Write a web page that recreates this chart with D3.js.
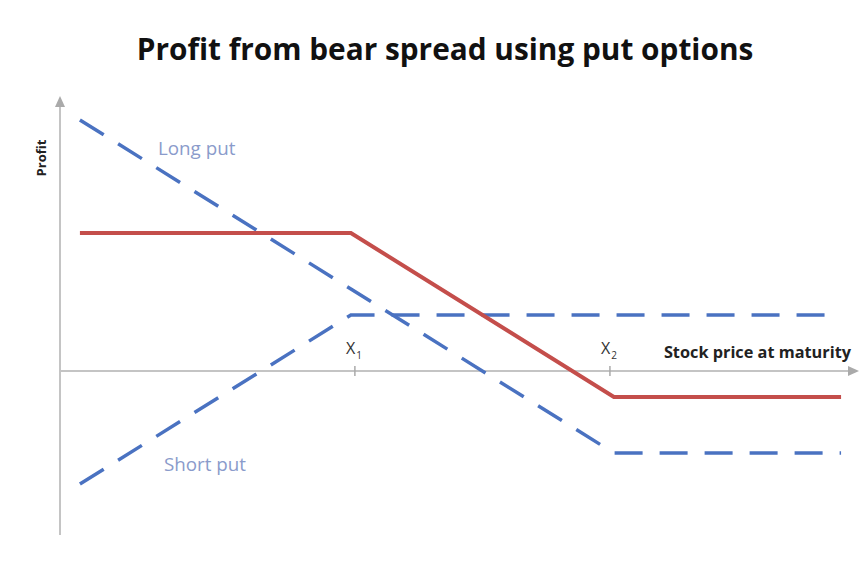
<!DOCTYPE html>
<html>
<head>
<meta charset="utf-8">
<script src="https://cdn.jsdelivr.net/npm/d3@7"></script>
<style>
  body { margin: 0; background: #fff; }
  text { font-family: "Open Sans", "Noto Sans", sans-serif; }
</style>
</head>
<body>
<div id="chart"></div>
<script>
// stock price at maturity and profit, both in arbitrary units
var prices = [2.5, 36.5, 69.5, 98];
var longPut = [25.1, 8.2, -8.2, -8.2];
var shortPut = [-11.3, 5.6, 5.6, 5.6];
var bearSpread = [13.8, 13.8, -2.6, -2.6];
var strikes = [{name: "X", sub: "1", value: 37}, {name: "X", sub: "2", value: 69}];
var seriesLabels = ["Long put", "Short put"];

var width = 863, height = 578;

var svg = d3.select("#chart")
    .append("svg")
    .attr("width", width)
    .attr("height", height);

var x = d3.scaleLinear().domain([0, 100]).range([60, 857]);
var y = d3.scaleLinear().domain([-16.4, 27.3]).range([535, 98]);

svg.append("text")
    .attr("x", 445)
    .attr("y", 60)
    .attr("text-anchor", "middle")
    .style("font-size", "29.8px")
    .style("font-weight", "bold")
    .style("fill", "#111")
    .text("Profit from bear spread using put options");

// axes
var axisColor = "#c4c4c4";
svg.append("line")
    .attr("x1", x(0)).attr("x2", x(0))
    .attr("y1", y.range()[0]).attr("y2", y.range()[1] + 6)
    .style("stroke", axisColor).style("stroke-width", 2);
svg.append("path")
    .attr("d", "M" + x(0) + "," + (y.range()[1] - 2) + "l-5,11l10,0z")
    .style("fill", "#aaa");

svg.append("line")
    .attr("x1", x(0)).attr("x2", x(100) - 6)
    .attr("y1", y(0)).attr("y2", y(0))
    .style("stroke", axisColor).style("stroke-width", 2);
svg.append("path")
    .attr("d", "M" + (x(100) + 2) + "," + y(0) + "l-11,-5l0,10z")
    .style("fill", "#aaa");

svg.selectAll("line.tick")
    .data(strikes)
    .enter().append("line")
    .attr("class", "tick")
    .attr("x1", function(d) { return x(d.value); })
    .attr("x2", function(d) { return x(d.value); })
    .attr("y1", y(0) - 5).attr("y2", y(0) + 5)
    .style("stroke", "#aaa").style("stroke-width", 1.5);

var strikeText = svg.selectAll("text.strike")
    .data(strikes)
    .enter().append("text")
    .attr("class", "strike")
    .attr("x", function(d) { return x(d.value) - 9; })
    .attr("y", y(0) - 17)
    .style("font-size", "16px")
    .style("fill", "#333");
strikeText.append("tspan").text(function(d) { return d.name; });
strikeText.append("tspan")
    .attr("dx", 1)
    .attr("dy", 5)
    .style("font-size", "10px")
    .text(function(d) { return d.sub; });

svg.append("text")
    .attr("x", 851)
    .attr("y", y(0) - 13)
    .attr("text-anchor", "end")
    .style("font-size", "16.3px")
    .style("font-weight", "bold")
    .style("fill", "#222")
    .text("Stock price at maturity");

svg.append("text")
    .attr("transform", "translate(46,158) rotate(-90)")
    .attr("text-anchor", "middle")
    .style("font-size", "13px")
    .style("font-weight", "bold")
    .style("fill", "#222")
    .text("Profit");

// lines
var line = d3.line()
    .x(function(d) { return x(d[0]); })
    .y(function(d) { return y(d[1]); });

function pts(values) {
    return prices.map(function(p, i) { return [p, values[i]]; });
}

svg.append("path")
    .datum(pts(longPut))
    .attr("d", line)
    .style("fill", "none")
    .style("stroke", "#4a72c1")
    .style("stroke-width", 3.5)
    .style("stroke-dasharray", "28,17");

svg.append("path")
    .datum(pts(shortPut))
    .attr("d", line)
    .style("fill", "none")
    .style("stroke", "#4a72c1")
    .style("stroke-width", 3.5)
    .style("stroke-dasharray", "28,17");

svg.append("path")
    .datum(pts(bearSpread))
    .attr("d", line)
    .style("fill", "none")
    .style("stroke", "#c44e4b")
    .style("stroke-width", 4);

svg.append("text")
    .attr("x", 158).attr("y", 155)
    .style("font-size", "18.8px")
    .style("fill", "#8a9bcb")
    .text(seriesLabels[0]);

svg.append("text")
    .attr("x", 164).attr("y", 471)
    .style("font-size", "18.8px")
    .style("fill", "#8a9bcb")
    .text(seriesLabels[1]);
</script>
</body>
</html>
